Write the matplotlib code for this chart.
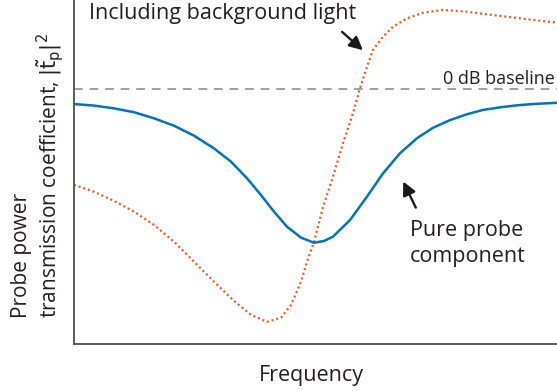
import matplotlib
matplotlib.use("Agg")
import matplotlib.pyplot as plt

# frequency (arb. units, 0 at the dip) and power transmission |t_p|^2 (1 = 0 dB)
freq_pure = [-2.41, -2.21, -2.01, -1.81, -1.61, -1.41, -1.21, -1.01, -0.84, -0.68, -0.54, -0.41,
             -0.28, -0.14, -0.01, 0.09, 0.18, 0.35, 0.52, 0.68, 0.85, 1.02, 1.18, 1.35, 1.52,
             1.68, 1.85, 2.02, 2.18, 2.42]
trans_pure = [0.941, 0.935, 0.924, 0.909, 0.885, 0.856, 0.817, 0.767, 0.715, 0.650, 0.584, 0.519,
              0.460, 0.417, 0.397, 0.404, 0.421, 0.486, 0.578, 0.669, 0.748, 0.807, 0.848, 0.878,
              0.901, 0.918, 0.928, 0.936, 0.941, 0.946]

freq_bg = [-2.41, -2.21, -2.01, -1.81, -1.61, -1.41, -1.21, -1.01, -0.81, -0.64, -0.48, -0.34,
           -0.24, -0.14, -0.08, -0.01, 0.08, 0.18, 0.28, 0.38, 0.45, 0.52, 0.58, 0.68, 0.78,
           0.92, 1.08, 1.28, 1.52, 1.78, 2.05, 2.42]
trans_bg = [0.624, 0.597, 0.561, 0.519, 0.467, 0.401, 0.323, 0.244, 0.169, 0.114, 0.087, 0.103,
            0.153, 0.244, 0.323, 0.400, 0.537, 0.656, 0.787, 0.905, 1.003, 1.087, 1.153, 1.205,
            1.244, 1.277, 1.299, 1.310, 1.303, 1.290, 1.277, 1.260]

baseline = 1.0

plt.rcParams['font.family'] = ['Open Sans', 'DejaVu Sans']

fig = plt.figure(figsize=(5.57, 3.91), dpi=100)
ax = fig.add_axes([74/557, 1 - 344/391, 1 - 74/557, 344/391])

ax.axhline(baseline, color="#a0a0a0", lw=1.4, dashes=(4.5, 3.5), zorder=1)
ax.plot(freq_pure, trans_pure, color="#0072bd", lw=1.8, zorder=3,
        solid_joinstyle="round", solid_capstyle="round")
ax.plot(freq_bg, trans_bg, color="#e0582c", lw=1.6, linestyle=(0, (0.9, 1.3)), zorder=2)

ax.set_xlim(-2.41, 2.42)
ax.set_ylim(0, 1.349)
ax.set_xticks([])
ax.set_yticks([])
for s in ["top", "right"]:
    ax.spines[s].set_visible(False)
for s in ["left", "bottom"]:
    ax.spines[s].set_color("#5a5a5a")
    ax.spines[s].set_linewidth(1.4)

txt = "#231f20"
ax.text(-2.26, 1.275, "Including background light", fontsize=15.5, color=txt, va="baseline", ha="left")
ax.annotate("", xy=(0.50, 1.145), xytext=(0.25, 1.231),
            arrowprops=dict(arrowstyle="-|>", color="#1a1a1a", lw=1.7, mutation_scale=20))
ax.text(2.40, 1.020, "0 dB baseline", fontsize=13, color=txt, va="baseline", ha="right")
ax.text(0.95, 0.322, "Pure probe\ncomponent", fontsize=15.5, color=txt, va="baseline", ha="left",
        linespacing=1.3)
ax.annotate("", xy=(0.87, 0.647), xytext=(1.02, 0.525),
            arrowprops=dict(arrowstyle="-|>", color="#1a1a1a", lw=1.7, mutation_scale=20))

fig.text(311/557, 1 - 381/391, "Frequency", fontsize=15.5, color=txt, ha="center", va="baseline")
# y label, two lines placed separately
fig.text(22/557, 1 - 318/391, "Probe power", fontsize=15, color=txt,
         rotation=90, ha="center", va="bottom")
fig.text(50/557, 1 - 318/391, "transmission coefficient, $|\\tilde{\\mathrm{t}}_\\mathrm{p}|^2$",
         fontsize=15, color=txt, rotation=90, ha="center", va="bottom")

fig.savefig("out.png", dpi=100)
